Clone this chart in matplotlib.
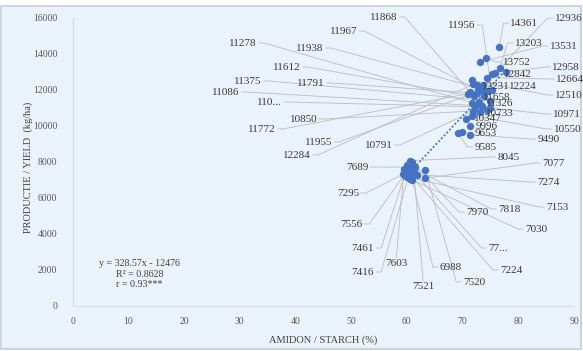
import numpy as np
import matplotlib.pyplot as plt
from matplotlib.patches import Rectangle

# starch content (%) and yield (kg/ha) for each sample
starch = [76.6, 74.2, 73.2, 76.7, 77.8, 75.9, 75.3, 74.4, 71.7, 71.9,
          72.5, 73.6, 72.8, 75.2, 73.4, 74.6, 71.3, 72.6, 71.0, 73.8,
          72.0, 74.9, 72.9, 71.6, 73.5, 72.3, 75.0, 74.4, 71.9, 73.2,
          71.7, 70.6, 71.4, 69.9, 69.2, 71.4,
          60.5, 61.0, 60.0, 60.3, 61.5, 59.5, 60.2, 61.2, 63.3, 59.8,
          60.5, 59.3, 61.8, 60.7, 60.0, 63.3, 60.6, 61.0]
yield_kg = [14361, 13752, 13531, 13203, 12958, 12936, 12842, 12664, 12510, 12284,
            12231, 12224, 11967, 11956, 11955, 11938, 11868, 11791, 11772, 11658,
            11612, 11375, 11326, 11278, 11086, 11043, 10971, 10850, 10791, 10733,
            10550, 10347, 9996, 9653, 9585, 9490,
            8045, 7970, 7818, 7735, 7689, 7603, 7556, 7521, 7520, 7461,
            7416, 7295, 7274, 7224, 7153, 7077, 7030, 6988]
# labels that get cut short in the chart
short_label = {11043: "110...", 7735: "77..."}

# regression reported on the chart
slope, intercept = 328.57, -12476
r2, r = 0.8628, 0.93

x_ticks = list(range(0, 91, 10))
y_ticks = list(range(0, 16001, 2000))

# where each data label sits (data units), same order as the points
label_xy = [(81.1, 15694), (79.8, 13528), (88.1, 14417), (81.8, 14583), (88.6, 13250),
            (89.0, 15972), (80.0, 12861), (89.3, 12583), (89.0, 11694), (40.3, 8361),
            (75.9, 12194), (80.9, 12194), (48.6, 15250), (69.8, 15583), (44.1, 9083),
            (42.6, 14306), (55.9, 16028), (42.8, 12361), (34.0, 9806), (76.2, 11583),
            (38.5, 13250), (31.5, 12472), (76.7, 11250), (30.6, 14583), (27.5, 11861),
            (35.3, 11306), (88.8, 10639), (41.4, 10361), (55.0, 8917), (76.7, 10694),
            (88.8, 9806), (74.6, 10417), (74.4, 9972), (74.2, 9583), (74.1, 8806),
            (85.4, 9250),
            (78.2, 8250), (72.6, 5194), (78.4, 5361), (76.4, 3194), (51.1, 7694),
            (58.1, 2361), (50.0, 4528), (62.9, 1083), (72.1, 1306), (52.1, 3194),
            (52.1, 1861), (49.4, 6250), (85.4, 6861), (78.7, 1972), (87.0, 5472),
            (86.3, 7917), (83.2, 4250), (67.9, 2139)]

bg = "#eaf2fc"
blue = "#4472c4"
serif = "Liberation Serif"

fig = plt.figure(figsize=(5.83, 3.51), dpi=100, facecolor="white")
fig.patches.append(Rectangle((0.002, 0.006), 0.995, 0.978, transform=fig.transFigure,
                             facecolor=bg, edgecolor="#c5cdd8", lw=1.2, zorder=-1))
ax = fig.add_axes([0.1247, 0.1296, 0.8599, 0.8205])
ax.set_facecolor("none")

ax.scatter(starch, yield_kg, s=28, color=blue, zorder=3, linewidths=0)

xs = np.array([min(starch), max(starch)])
ax.plot(xs, slope * xs + intercept, color=blue, lw=1.3, ls=(0, (1, 1.2)), zorder=2.5)

ax.set_xlim(0, 90)
ax.set_ylim(0, 16000)
ax.set_xticks(x_ticks)
ax.set_yticks(y_ticks)
ax.tick_params(length=0, labelsize=7, labelcolor="#595959")
ax.tick_params(axis="y", pad=11)
ax.tick_params(axis="x", pad=8)
for t in ax.get_xticklabels() + ax.get_yticklabels():
    t.set_fontfamily(serif)
for side in ["top", "right"]:
    ax.spines[side].set_visible(False)
for side in ["left", "bottom"]:
    ax.spines[side].set_color("#d6dce4")
    ax.spines[side].set_linewidth(0.8)

fig.text(323 / 583, 1 - 340 / 351, "AMIDON / STARCH (%)", ha="center", va="center",
         fontsize=7.5, family=serif, color="#404040")
fig.text(28 / 583, 1 - 167.5 / 351, "PRODUCTIE / YIELD  (kg/ha)", ha="center", va="center",
         rotation=90, fontsize=7.5, family=serif, color="#404040")

eq = f"y = {slope}x - {abs(intercept)}\nR\u00b2 = {r2}\nr = {r}***"
ax.text(12.0, 1750, eq, ha="center", va="center", fontsize=7.2, family=serif,
        color="#404040", linespacing=1.15)

texts = []
for v, (lx, ly) in zip(yield_kg, label_xy):
    t = ax.text(lx, ly, short_label.get(v, str(v)), ha="center", va="center",
                fontsize=8, family=serif, color="#3a3a3a", zorder=5, clip_on=False)
    texts.append(t)

# leader lines from each label to its point
fig.canvas.draw()
renderer = fig.canvas.get_renderer()
to_data = ax.transData.inverted()
for t, px, py in zip(texts, starch, yield_kg):
    bb = t.get_window_extent(renderer)
    tx, ty = ax.transData.transform((px, py))
    cy = (bb.y0 + bb.y1) / 2
    if tx > bb.x1:
        pts = [(bb.x1 + 2, cy), (bb.x1 + 7, cy), (tx, ty)]
    elif tx < bb.x0:
        pts = [(bb.x0 - 2, cy), (bb.x0 - 7, cy), (tx, ty)]
    elif ty > bb.y1:
        pts = [((bb.x0 + bb.x1) / 2, bb.y1 + 1), (tx, ty)]
    else:
        pts = [((bb.x0 + bb.x1) / 2, bb.y0 - 1), (tx, ty)]
    xy = to_data.transform(pts)
    ax.plot(xy[:, 0], xy[:, 1], color="#bcbcbc", lw=0.6, zorder=2, clip_on=False)

fig.savefig("out.png", dpi=100, facecolor=fig.get_facecolor())
